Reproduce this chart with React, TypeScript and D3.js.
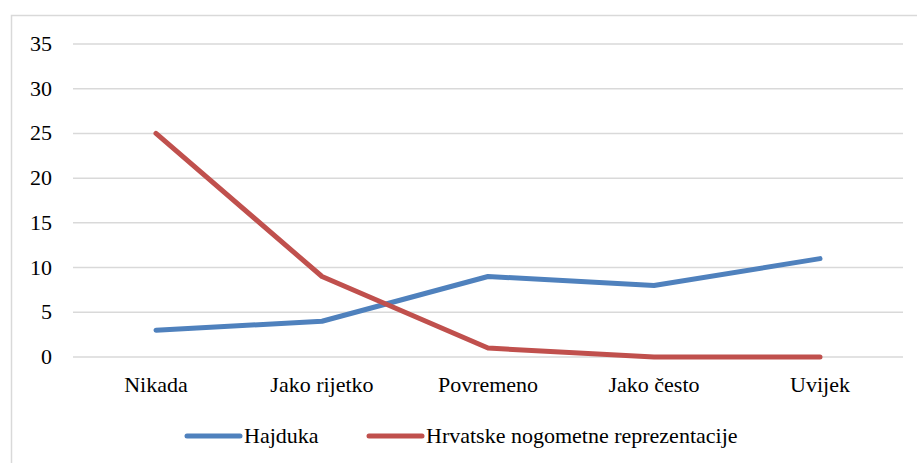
import * as d3 from 'd3';

const width = 917;
const height = 463;

const categories = ['Nikada', 'Jako rijetko', 'Povremeno', 'Jako često', 'Uvijek'];
const hajduka = [3, 4, 9, 8, 11];
const reprezentacija = [25, 9, 1, 0, 0];
const yTicks = [0, 5, 10, 15, 20, 25, 30, 35];

const seriesList = [
  { name: 'Hajduka', values: hajduka, colour: '#4F81BD' },
  { name: 'Hrvatske nogometne reprezentacije', values: reprezentacija, colour: '#C0504D' },
];

const xScale = d3.scalePoint().domain(categories).range([73, 903]).padding(0.5);
const yScale = d3.scaleLinear().domain([0, 35]).range([357, 44]);

const line = d3
  .line<number>()
  .x((_, i) => xScale(categories[i]) as number)
  .y((d) => yScale(d));

const legendX = [187, 369];

const css = `.lbl { font-family: "Liberation Serif", Tinos, "Times New Roman", serif; font-size: 22px; fill: #000; }`;

export default function App() {
  return (
    <svg width={width} height={height} style={{ position: 'absolute', left: 0, top: 0 }}>
      <style>{css}</style>
      {/* outer frame, only left and top edges are in view */}
      <rect
        x={11.5}
        y={15.5}
        width={920}
        height={460}
        fill="white"
        stroke="#d9d9d9"
        strokeWidth={1.5}
      />

      {yTicks.map((t) => (
        <line
          key={'g' + t}
          x1={73}
          x2={903}
          y1={yScale(t)}
          y2={yScale(t)}
          stroke="#d9d9d9"
          strokeWidth={1.5}
        />
      ))}
      {yTicks.map((t) => (
        <text
          key={'t' + t}
          className="lbl"
          x={52}
          y={yScale(t) + 7}
          textAnchor="end"
          fontFamily="Liberation Serif"
        >
          {t}
        </text>
      ))}

      {categories.map((c) => (
        <text
          key={c}
          className="lbl"
          x={xScale(c)}
          y={392}
          textAnchor="middle"
          fontFamily="Liberation Serif"
        >
          {c}
        </text>
      ))}

      {seriesList.map((s) => (
        <path
          key={s.name}
          d={line(s.values) ?? ''}
          fill="none"
          stroke={s.colour}
          strokeWidth={5}
          strokeLinecap="round"
          strokeLinejoin="round"
        />
      ))}

      {seriesList.map((s, i) => (
        <g key={s.name}>
          <line
            x1={legendX[i]}
            x2={legendX[i] + 53}
            y1={436}
            y2={436}
            stroke={s.colour}
            strokeWidth={5}
            strokeLinecap="round"
          />
          <text className="lbl" x={legendX[i] + 57} y={443} fontFamily="Liberation Serif">
            {s.name}
          </text>
        </g>
      ))}
    </svg>
  );
}
